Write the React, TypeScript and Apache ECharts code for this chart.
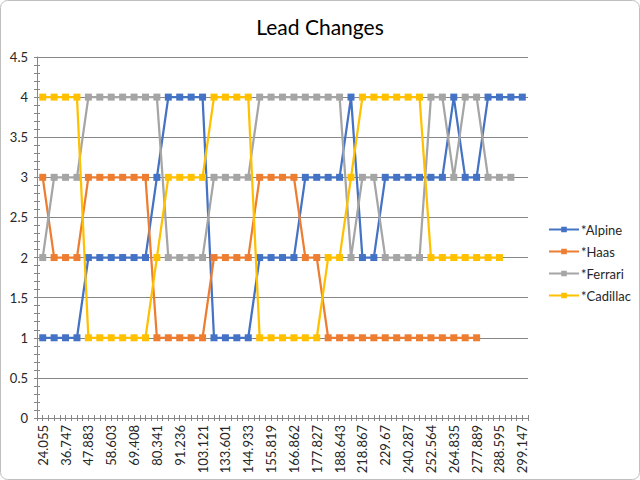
import React, { useEffect, useRef } from "react";
import * as echarts from "echarts";

const categories = [
  "24.055", "30.412", "36.747", "42.318", "47.883", "53.247", "58.603", "64.011",
  "69.408", "74.872", "80.341", "85.790", "91.236", "97.180", "103.121", "118.364",
  "133.601", "139.270", "144.933", "150.376", "155.819", "161.341", "166.862", "172.345",
  "177.827", "183.235", "188.643", "203.755", "218.867", "224.268", "229.67", "234.978",
  "240.287", "246.425", "252.564", "258.699", "264.835", "271.362", "277.889", "283.242",
  "288.595", "293.871", "299.147",
];

const alpine = [
  1, 1, 1, 1, 2, 2, 2, 2, 2, 2, 3, 4, 4, 4, 4, 1, 1, 1, 1, 2, 2, 2, 2, 3, 3, 3, 3, 4, 2, 2,
  3, 3, 3, 3, 3, 3, 4, 3, 3, 4, 4, 4, 4,
];
const haas = [
  3, 2, 2, 2, 3, 3, 3, 3, 3, 3, 1, 1, 1, 1, 1, 2, 2, 2, 2, 3, 3, 3, 3, 2, 2, 1, 1, 1, 1, 1,
  1, 1, 1, 1, 1, 1, 1, 1, 1, null, null, null, null,
];
const ferrari = [
  2, 3, 3, 3, 4, 4, 4, 4, 4, 4, 4, 2, 2, 2, 2, 3, 3, 3, 3, 4, 4, 4, 4, 4, 4, 4, 4, 2, 3, 3,
  2, 2, 2, 2, 4, 4, 3, 4, 4, 3, 3, 3, null,
];
const cadillac = [
  4, 4, 4, 4, 1, 1, 1, 1, 1, 1, 2, 3, 3, 3, 3, 4, 4, 4, 4, 1, 1, 1, 1, 1, 1, 2, 2, 3, 4, 4,
  4, 4, 4, 4, 2, 2, 2, 2, 2, 2, 2, null, null,
];

const seriesNames = ["*Alpine", "*Haas", "*Ferrari", "*Cadillac"];
const seriesColors = ["#4472C4", "#ED7D31", "#A5A5A5", "#FFC000"];
const seriesData = [alpine, haas, ferrari, cadillac];

const FONT = "Lato, 'Liberation Sans', sans-serif";
const AXIS_COLOR = "#868686";
const TEXT_COLOR = "#262626";

export default function App() {
  const ref = useRef<HTMLDivElement>(null);
  useEffect(() => {
    if (!ref.current) return;
    const chart = echarts.init(ref.current, undefined, { renderer: "svg" });
    const n = categories.length;
    const tickAxis = (inside: boolean) => ({
      type: "value" as const,
      position: "bottom" as const,
      min: 0,
      max: n,
      interval: 0.5,
      axisLine: { show: false },
      axisLabel: { show: false },
      splitLine: { show: false },
      axisTick: { show: true, inside, length: 3, lineStyle: { color: AXIS_COLOR, width: 1 } },
    });
    const yBase = (inside: boolean, main: boolean) => ({
      type: "value" as const,
      position: "left" as const,
      min: 0,
      max: 4.5,
      interval: 0.5,
      axisLine: { show: main, lineStyle: { color: AXIS_COLOR, width: 1 } },
      axisLabel: {
        show: main,
        color: TEXT_COLOR,
        fontFamily: FONT,
        fontSize: 13,
        margin: 9,
      },
      splitLine: { show: main, lineStyle: { color: AXIS_COLOR, width: 1 } },
      axisTick: { show: true, inside, length: 3, lineStyle: { color: AXIS_COLOR, width: 1 } },
      minorTick: { show: true, splitNumber: 5, length: 3, lineStyle: { color: AXIS_COLOR, width: 1 } },
    });
    chart.setOption({
      animation: false,
      backgroundColor: "#ffffff",
      title: {
        text: "Lead Changes",
        left: "center",
        top: 11,
        textStyle: { fontFamily: FONT, fontSize: 21, fontWeight: "normal", color: "#000000" },
      },
      graphic: [
        {
          type: "rect",
          shape: { x: 0.5, y: 0.5, width: 639, height: 479, r: 7 },
          style: { fill: "none", stroke: "#bfbfbf", lineWidth: 1 },
          silent: true,
          z: 100,
        },
      ],
      legend: {
        orient: "vertical",
        left: 543,
        top: 218,
        itemGap: 9,
        itemWidth: 30,
        itemHeight: 7,
        data: seriesNames,
        textStyle: { fontFamily: FONT, fontSize: 13, color: TEXT_COLOR, padding: [0, 0, 0, -3] },
      },
      grid: { left: 37, right: 112, top: 57, bottom: 62, containLabel: false },
      xAxis: [
        {
          type: "category",
          data: categories,
          boundaryGap: true,
          axisLine: { show: true, lineStyle: { color: AXIS_COLOR, width: 1 } },
          axisTick: { show: false },
          axisLabel: {
            interval: 1,
            rotate: 90,
            color: TEXT_COLOR,
            fontFamily: FONT,
            fontSize: 13,
            margin: 7,
          },
          splitLine: { show: false },
        },
        tickAxis(false),
        tickAxis(true),
      ],
      yAxis: [yBase(false, true), yBase(true, false)],
      series: seriesNames.map((name, i) => ({
        name,
        type: "line",
        xAxisIndex: 0,
        yAxisIndex: 0,
        data: seriesData[i],
        symbol: "rect",
        symbolSize: 7,
        connectNulls: false,
        lineStyle: { color: seriesColors[i], width: 2.25 },
        itemStyle: { color: seriesColors[i] },
        z: 2 + i,
      })),
    });
    return () => chart.dispose();
  }, []);
  return (
    <div
      ref={ref}
      style={{ position: "fixed", left: 0, top: 0, width: 640, height: 480 }}
    />
  );
}
